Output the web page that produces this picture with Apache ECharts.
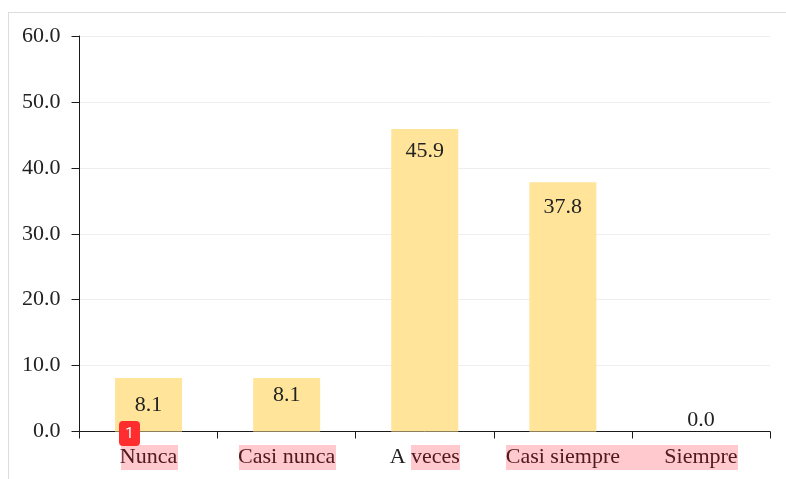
<!DOCTYPE html>
<html><head><meta charset="utf-8">
<style>html,body{margin:0;padding:0;background:#fff}#c{width:786px;height:479px}</style>
<script src="https://cdn.jsdelivr.net/npm/echarts@6/dist/echarts.min.js"></script>
</head><body><div id="c"></div>
<script>
const categories = ["Nunca","Casi nunca","A veces","Casi siempre","Siempre"];
const values = [8.1,8.1,45.9,37.8,0.0];
const labelPositions = ["inside","insideTop","insideTop","insideTop","top"];
const labelDistances = [5,6,11,14,0];
const FONT = '"Liberation Serif","Times New Roman",serif';
const TEXT = '#222';
const AXIS = '#1a1a1a';
const chart = echarts.init(document.getElementById('c'),null,{renderer:'canvas'});
const pink = 'rgba(255,0,20,0.21)';
const highlight = (x,w)=>({type:'rect',z:50,silent:true,shape:{x:x,y:445,width:w,height:25},style:{fill:pink}});
chart.setOption({
  animation:false,
  backgroundColor:'#fff',
  grid:{left:79.5,right:16,top:36,bottom:47.5,containLabel:false},
  xAxis:{type:'category',data:categories,
    axisLine:{lineStyle:{color:AXIS,width:1}},
    axisTick:{show:true,length:7,alignWithLabel:false,lineStyle:{color:AXIS}},
    axisLabel:{fontFamily:FONT,fontSize:22,color:TEXT,margin:15,interval:0}},
  yAxis:{type:'value',min:0,max:60,interval:10,
    axisLine:{show:true,lineStyle:{color:AXIS,width:1}},
    axisTick:{show:true,length:8,lineStyle:{color:AXIS}},
    splitLine:{show:true,lineStyle:{color:'#eeeeee',width:1}},
    axisLabel:{fontFamily:FONT,fontSize:22,color:TEXT,margin:19,padding:[2,0,0,0],formatter:v=>v.toFixed(1)}},
  series:[{type:'bar',barWidth:67,itemStyle:{color:'#ffe499'},
    data:values.map((v,i)=>({value:v,label:{show:true,position:labelPositions[i],distance:labelDistances[i],formatter:p=>p.value.toFixed(1),fontFamily:FONT,fontSize:22,color:TEXT}}))}],
  graphic:[
    {type:'line',z:40,silent:true,shape:{x1:8.5,y1:12.5,x2:8.5,y2:479},style:{stroke:'#dddddd',lineWidth:1}},
    {type:'line',z:40,silent:true,shape:{x1:8,y1:12.5,x2:786,y2:12.5},style:{stroke:'#dddddd',lineWidth:1}},
    highlight(121,57),highlight(239,97),highlight(411,49),highlight(506,232),
    {type:'rect',z:60,silent:true,shape:{x:119,y:421,width:21,height:25,r:4},style:{fill:'#ff2d2d'}},
    {type:'text',z:61,silent:true,style:{x:129.5,y:434,text:'1',fill:'#fff',font:'15px Roboto, sans-serif',align:'center',verticalAlign:'middle'}}
  ]
});
</script></body></html>
